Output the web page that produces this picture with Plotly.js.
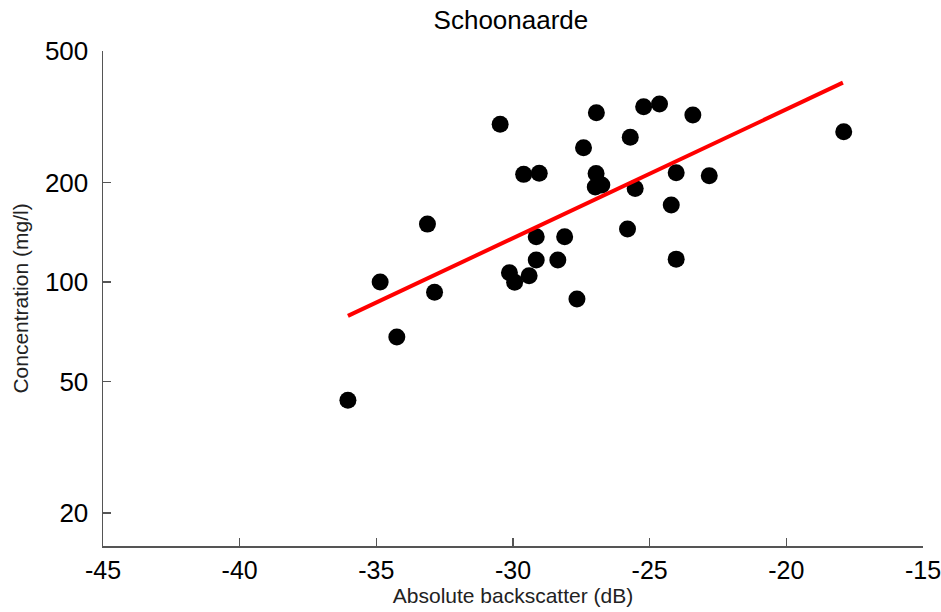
<!DOCTYPE html>
<html>
<head>
<meta charset="utf-8">
<script src="https://cdn.plot.ly/plotly-3.0.1.min.js"></script>
<style>html,body{margin:0;padding:0;background:#fff;}#chart{width:941px;height:612px;}</style>
</head>
<body>
<div id="chart"></div>
<script>
const backscatter = [-36.04, -34.86, -34.25, -33.13, -32.87, -30.47, -30.13, -29.94, -29.61, -29.41,
  -29.15, -29.15, -29.04, -28.36, -28.11, -27.66, -27.42, -26.99, -26.96, -26.95,
  -26.75, -25.81, -25.71, -25.53, -25.22, -24.64, -24.21, -24.03, -24.03, -23.42,
  -22.82, -17.90];
const concentration = [43.9, 100.1, 68.2, 149.7, 93.2, 300, 106.6, 99.9, 211.7, 104.4,
  137.1, 116.5, 213.2, 116.5, 137.1, 88.9, 254.8, 193.8, 213, 325,
  196.5, 144.6, 274, 192, 339, 345.6, 170.9, 214.1, 117.3, 320,
  209.7, 285];
const fitX = [-36.04, -17.93];
const fitY = [79.0, 401];
const xTickVals = [-45, -40, -35, -30, -25, -20, -15];
const xTickText = ['-45', '-40', '-35', '-30', '-25', '-20', '-15'];
const yTickVals = [20, 50, 100, 200, 500];
const yTickText = ['20', '50', '100', '200', '500'];

const font = 'Liberation Sans, Arial, Helvetica, sans-serif';

const traces = [
  {
    x: backscatter, y: concentration, type: 'scatter', mode: 'markers',
    marker: {color: '#000', size: 17, line: {width: 0}},
    hoverinfo: 'x+y'
  },
  {
    x: fitX, y: fitY, type: 'scatter', mode: 'lines',
    line: {color: '#ff0000', width: 4}
  }
];

const layout = {
  width: 941, height: 612,
  margin: {l: 103, r: 18, t: 51, b: 66},
  paper_bgcolor: '#fff', plot_bgcolor: '#fff',
  showlegend: false,
  font: {family: font, color: '#000'},
  title: {text: 'Schoonaarde', font: {family: font, size: 26, color: '#000'},
    x: 0.543, xanchor: 'center', y: 0.967, yanchor: 'middle'},
  xaxis: {
    range: [-45, -15], tickvals: xTickVals, ticktext: xTickText,
    showline: true, linecolor: '#555', linewidth: 1.5,
    ticks: 'inside', ticklen: 8, tickcolor: '#555', tickwidth: 1.5,
    showgrid: false, zeroline: false, automargin: false,
    ticklabeloverflow: 'allow',
    tickfont: {family: font, size: 25, color: '#000'},
    ticklabelstandoff: 1,
    title: {text: 'Absolute backscatter (dB)', font: {family: font, size: 21, color: '#222'}, standoff: 6}
  },
  yaxis: {
    type: 'log', range: [Math.log10(15.9), Math.log10(500)],
    tickvals: yTickVals, ticktext: yTickText,
    showline: true, linecolor: '#555', linewidth: 1.5,
    ticks: 'inside', ticklen: 8, tickcolor: '#555', tickwidth: 1.5,
    showgrid: false, zeroline: false, automargin: false,
    tickfont: {family: font, size: 26, color: '#000'},
    ticklabelstandoff: 8,
    title: {text: 'Concentration (mg/l)', font: {family: font, size: 21, color: '#222'}, standoff: 10}
  }
};

Plotly.newPlot('chart', traces, layout, {displayModeBar: false, staticPlot: true});
</script>
</body>
</html>
